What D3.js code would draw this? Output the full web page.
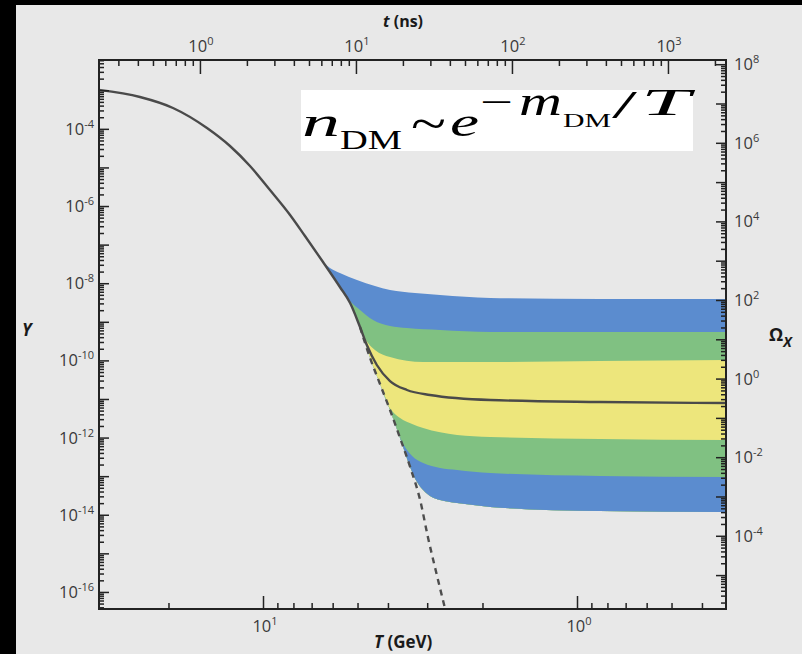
<!DOCTYPE html>
<html><head><meta charset="utf-8">
<script src="https://cdn.jsdelivr.net/npm/d3@7"></script>
<style>html,body{margin:0;padding:0;background:#000;}svg{display:block}</style>
</head><body><svg id="c" width="802" height="654"></svg>
<script>
// ---------------- data ----------------
// actual relic abundance Y(T)  (solid line)
const solidT = [33.3, 24.65, 19.35, 15.08, 12.74, 11.0, 9.50, 8.20, 7.35, 6.44, 5.69, 5.28, 4.91, 4.67, 4.34, 3.94, 3.48, 2.94, 1.89, 0.845, 0.335];
const solidY = [1.02e-3, 6.68e-4, 3.47e-4, 1.05e-4, 3.59e-5, 1.09e-5, 2.60e-6, 5.86e-7, 1.67e-7, 3.55e-8, 7.98e-9, 3.07e-9, 7.33e-10, 2.51e-10, 7.60e-11, 2.92e-11, 1.71e-11, 1.27e-11, 9.42e-12, 8.36e-12, 7.87e-12];
// equilibrium abundance (dashed line)
const eqT = [4.91, 4.56, 4.24, 3.94, 3.66, 3.40, 3.16, 2.98, 2.81, 2.63];
const eqY = [7.33e-10, 1.15e-10, 2.44e-11, 5.19e-12, 9.75e-13, 1.73e-13, 2.42e-14, 2.50e-15, 3.29e-16, 3.61e-17];
// band boundaries, top to bottom
const edge0T = [6.44, 6.12, 5.69, 5.02, 4.40, 3.94, 3.28, 2.73, 1.89, 0.845, 0.335];
const edge0Y = [3.55e-8, 2.48e-8, 1.84e-8, 1.21e-8, 8.47e-9, 6.67e-9, 5.57e-9, 4.94e-9, 4.13e-9, 3.90e-9, 3.90e-9];
const edge1T = [5.48, 5.21, 4.91, 4.46, 3.94, 3.48, 2.73, 1.89, 0.845, 0.335];
const edge1Y = [4.95e-9, 3.07e-9, 2.02e-9, 1.11e-9, 7.78e-10, 6.90e-10, 6.14e-10, 5.45e-10, 5.45e-10, 5.45e-10];
const edge2T = [4.84, 4.63, 4.40, 3.94, 3.09, 1.89, 0.845, 0.335];
const edge2Y = [5.13e-10, 2.82e-10, 1.86e-10, 1.22e-10, 9.08e-11, 9.08e-11, 9.64e-11, 1.02e-10];
const edge3T = [4.00, 3.83, 3.66, 3.35, 3.09, 2.41, 1.89, 0.845, 0.335];
const edge3Y = [6.98e-12, 4.34e-12, 3.21e-12, 2.25e-12, 1.77e-12, 1.17e-12, 1.04e-12, 9.18e-13, 8.65e-13];
const edge4T = [3.72, 3.56, 3.35, 3.09, 2.73, 2.41, 1.89, 0.845, 0.335];
const edge4Y = [1.40e-12, 6.43e-13, 3.33e-13, 2.19e-13, 1.63e-13, 1.45e-13, 1.21e-13, 1.01e-13, 9.53e-14];
const edge5T = [3.40, 3.26, 3.09, 2.90, 2.73, 2.41, 2.14, 1.89, 0.845, 0.335];
const edge5Y = [1.73e-13, 7.96e-14, 4.39e-14, 2.88e-14, 2.41e-14, 2.02e-14, 1.79e-14, 1.59e-14, 1.25e-14, 1.18e-14];
const bandColors = ["#5b8ccf", "#80c182", "#ede67c", "#80c182", "#5b8ccf"];
// axes
const leftLabelExps = [-4, -6, -8, -10, -12, -14, -16];
const rightLabelExps = [8, 6, 4, 2, 0, -2, -4];
const topLabelExps = [0, 1, 2, 3];
const bottomLabelExps = [1, 0];
const bottomMinorT = [20, 9, 8, 7, 6, 5, 4, 3, 2, 0.9, 0.8, 0.7, 0.6, 0.5, 0.4];

// ---------------- layout ----------------
const L = 99, R = 726, TOP = 60, BOT = 609;
const svg = d3.select("#c");
svg.append("rect").attr("x", 16).attr("y", 5).attr("width", 786).attr("height", 649).attr("fill", "#e8e8e8");

const x = d3.scaleLog().domain([Math.pow(10, 1.5223), Math.pow(10, -0.4745)]).range([L, R]);
const xt = d3.scaleLog().domain([Math.pow(10, -0.647), Math.pow(10, 3.372)]).range([L, R]);
const y = d3.scaleLog().domain([Math.pow(10, -16.442), Math.pow(10, -2.216)]).range([BOT, TOP]);
const yr = d3.scaleLog().domain([Math.pow(10, -5.863), Math.pow(10, 8.107)]).range([BOT, TOP]);

const zip = (T, Y) => T.map((t, i) => [t, Y[i]]);
const line = d3.line().x(d => x(d[0])).y(d => y(d[1])).curve(d3.curveMonotoneX);

// left edge of the band region (freeze-out onset along equilibrium)
const S = edge0T[0];
const leftEdge = zip(solidT, solidY).filter(d => d[0] <= S && d[0] > eqT[0]).concat(zip(eqT, eqY));
const edges = [[edge0T, edge0Y], [edge1T, edge1Y], [edge2T, edge2Y], [edge3T, edge3Y], [edge4T, edge4Y], [edge5T, edge5Y]]
  .map(([T, Y]) => leftEdge.filter(d => d[0] > T[0]).concat(zip(T, Y)));
const bottomRev = edges[5].slice().reverse();

const g = svg.append("g");
[0, 1, 2, 3, 4].forEach(k => {
  const p = line(edges[k]) + line(bottomRev).replace(/^M/, "L") + "Z";
  g.append("path").attr("d", p).attr("fill", bandColors[k]).attr("stroke", "none");
});

// lines
g.append("path").attr("d", line(zip(eqT, eqY))).attr("fill", "none")
  .attr("stroke", "#4d4d4d").attr("stroke-width", 2.4).attr("stroke-dasharray", "6,5");
g.append("path").attr("d", line(zip(solidT, solidY))).attr("fill", "none")
  .attr("stroke", "#4a4a4a").attr("stroke-width", 2.4);

// ---------------- axes ----------------
const ink = "#222";
function minors(lo, hi) {
  const out = [];
  for (let n = Math.floor(Math.log10(lo)) - 1; n <= Math.ceil(Math.log10(hi)); n++)
    for (let k = 2; k <= 9; k++) { const v = k * Math.pow(10, n); if (v > lo && v < hi) out.push(v); }
  return out;
}
function decades(lo, hi) {
  const out = [];
  for (let n = Math.ceil(Math.log10(lo) - 1e-9); n <= Math.floor(Math.log10(hi) + 1e-9); n++) out.push(Math.pow(10, n));
  return out;
}
function drawAxis(axisFn, scale, vals, size, transform) {
  const a = svg.append("g").attr("transform", transform)
    .call(axisFn(scale).tickValues(vals).tickSizeInner(size).tickSizeOuter(0).tickFormat(""));
  a.select(".domain").remove();
  a.selectAll(".tick line").attr("stroke", ink).attr("stroke-width", 1.5);
}
const yd = y.domain(), yrd = yr.domain(), xtd = xt.domain();
drawAxis(d3.axisLeft, y, decades(yd[0], yd[1]), -10, `translate(${L},0)`);
drawAxis(d3.axisLeft, y, minors(yd[0], yd[1]), -5, `translate(${L},0)`);
drawAxis(d3.axisRight, yr, decades(yrd[0], yrd[1]), -10, `translate(${R},0)`);
drawAxis(d3.axisRight, yr, minors(yrd[0], yrd[1]), -5, `translate(${R},0)`);
drawAxis(d3.axisTop, xt, decades(xtd[0], xtd[1]), -14, `translate(0,${TOP})`);
drawAxis(d3.axisTop, xt, minors(xtd[0], xtd[1]), -6, `translate(0,${TOP})`);
drawAxis(d3.axisBottom, x, bottomLabelExps.map(e => Math.pow(10, e)), -13, `translate(0,${BOT})`);
drawAxis(d3.axisBottom, x, bottomMinorT, -6, `translate(0,${BOT})`);

svg.append("rect").attr("x", L).attr("y", TOP).attr("width", R - L).attr("height", BOT - TOP)
  .attr("fill", "none").attr("stroke", ink).attr("stroke-width", 2);

// tick labels
const tickFont = "'Open Sans', sans-serif";
function pow10(sel, e) {
  sel.append("tspan").text("10");
  sel.append("tspan").attr("dy", -7).attr("font-size", 11).text(e < 0 ? "-" + (-e) : String(e));
}
function label(px, py, anchor, e) {
  const t = svg.append("text").attr("x", px).attr("y", py).attr("text-anchor", anchor)
    .attr("font-family", tickFont).attr("font-size", 16.5).attr("fill", "#3a3a3a");
  pow10(t, e);
}
leftLabelExps.forEach(e => label(94, y(Math.pow(10, e)) + 6, "end", e));
rightLabelExps.forEach(e => label(734, yr(Math.pow(10, e)) + 6, "start", e));
topLabelExps.forEach(e => label(xt(Math.pow(10, e)) + 1, 52, "middle", e));
bottomLabelExps.forEach(e => label(x(Math.pow(10, e)) + 2, 632, "middle", e));

// axis titles
const tf = "'Open Sans', sans-serif";
let t1 = svg.append("text").attr("x", 383).attr("y", 27).attr("font-family", tf).attr("font-weight", "bold").attr("font-size", 16).attr("fill", "#1a1a1a");
t1.append("tspan").attr("font-style", "italic").text("t");
t1.append("tspan").text(" (ns)");
let t2 = svg.append("text").attr("x", 374).attr("y", 648).attr("font-family", tf).attr("font-weight", "bold").attr("font-size", 17).attr("fill", "#1a1a1a");
t2.append("tspan").attr("font-style", "italic").text("T");
t2.append("tspan").text(" (GeV)");
svg.append("text").attr("x", 22).attr("y", 336).attr("font-family", tf).attr("font-weight", "bold").attr("font-style", "italic")
  .attr("font-size", 17).attr("fill", "#1a1a1a").text("Y");
let t3 = svg.append("text").attr("x", 769).attr("y", 341).attr("font-family", tf).attr("font-weight", "bold").attr("font-size", 18).attr("fill", "#1a1a1a");
t3.append("tspan").text("Ω");
t3.append("tspan").attr("dy", 6).attr("font-size", 14).attr("font-style", "italic").text("X");

// formula box
svg.append("rect").attr("x", 301).attr("y", 90).attr("width", 392).attr("height", 61).attr("fill", "#fff");
const ff = "'Liberation Serif', 'Times New Roman', serif";
const pieces = [
  { s: "n", x: 302, w: 38, b: 136, fs: 41, it: true },
  { s: "DM", x: 340, w: 62, b: 149, fs: 28, it: false },
  { s: "~", x: 411, w: 35, b: 140, fs: 50, it: false },
  { s: "e", x: 450, w: 29, b: 136, fs: 41, it: true },
  { s: "−", x: 480, w: 33, b: 115, fs: 38, it: false },
  { s: "m", x: 519, w: 43, b: 115, fs: 42, it: true },
  { s: "DM", x: 563, w: 48, b: 127, fs: 19, it: false },
  { s: "/", x: 612, w: 25, b: 118, fs: 40, it: false },
  { s: "T", x: 641, w: 49, b: 115, fs: 37, it: true }
];
pieces.forEach(p => {
  svg.append("text").attr("x", p.x).attr("y", p.b).attr("font-family", ff).attr("font-size", p.fs)
    .attr("font-style", p.it ? "italic" : "normal").attr("fill", "#000")
    .attr("textLength", p.w).attr("lengthAdjust", "spacingAndGlyphs").text(p.s);
});
</script></body></html>
